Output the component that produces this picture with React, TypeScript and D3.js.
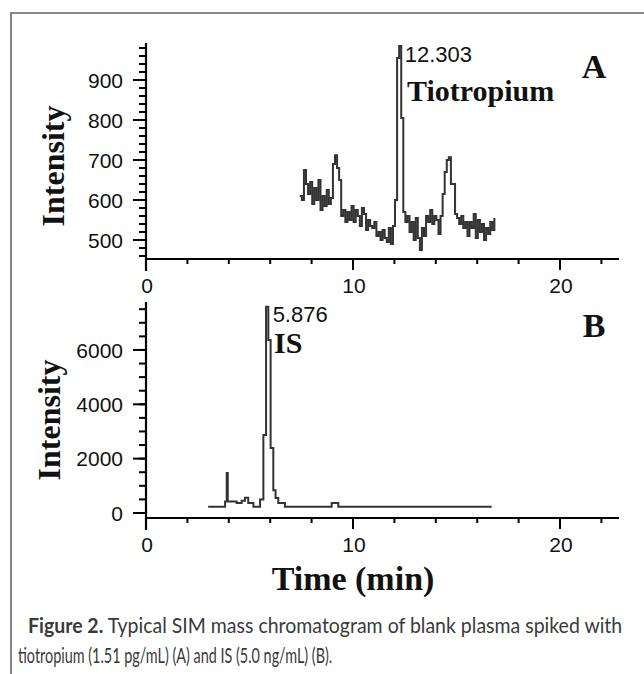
import React, { useLayoutEffect, useRef, useState } from 'react';
import * as d3 from 'd3';

// Panel A – tiotropium SIM trace (time in min, intensity)
const timeA = [
  7.43, 7.53, 7.63, 7.73, 7.83, 7.93, 8.03, 8.13, 8.23, 8.33, 8.43, 8.53, 8.63, 8.73, 8.83, 8.93,
  9.03, 9.13, 9.23, 9.33, 9.43, 9.53, 9.63, 9.73, 9.83, 9.93, 10.03, 10.13, 10.23, 10.33, 10.43,
  10.53, 10.63, 10.73, 10.83, 10.93, 11.03, 11.13, 11.23, 11.33, 11.43, 11.53, 11.63, 11.73, 11.83,
  11.93, 12.03, 12.13, 12.23, 12.33, 12.43, 12.53, 12.63, 12.73, 12.83, 12.93, 13.03, 13.13, 13.23,
  13.33, 13.43, 13.53, 13.63, 13.73, 13.83, 13.93, 14.03, 14.13, 14.23, 14.33, 14.43, 14.53, 14.63,
  14.73, 14.83, 14.93, 15.03, 15.13, 15.23, 15.33, 15.43, 15.53, 15.63, 15.73, 15.83, 15.93, 16.03,
  16.13, 16.23, 16.33, 16.43, 16.53, 16.63, 16.73, 16.83,
];
const intensityA = [
  610, 600, 675, 640, 615, 645, 590, 630, 600, 650, 575, 610, 585, 625, 590, 605,
  690, 712, 680, 650, 560, 575, 545, 570, 550, 585, 545, 575, 560, 535, 580,
  565, 525, 550, 535, 530, 545, 510, 520, 500, 525, 505, 495, 530, 490,
  535, 600, 955, 985, 805, 570, 545, 560, 520, 545, 500, 555, 505, 475,
  530, 510, 560, 545, 575, 540, 560, 550, 515, 560, 615, 670, 700, 707,
  640, 640, 565, 555, 540, 560, 530, 545, 510, 545, 530, 565, 505, 550,
  520, 540, 500, 530, 515, 545, 525, 555,
];

// Panel B – internal standard SIM trace
const timeB = [3.0, 3.82, 3.9, 3.95, 4.38, 4.62, 4.78, 4.94, 5.19, 5.51, 5.67, 5.8, 5.91, 6.02, 6.15, 6.26, 6.39, 6.71, 8.97, 9.29, 16.7];
const intensityB = [230, 420, 1470, 420, 370, 450, 560, 370, 230, 500, 2870, 7590, 6370, 2390, 840, 550, 370, 230, 370, 230, 230];

const xTickValues = [0, 10, 20];
const yTickValuesA = [500, 600, 700, 800, 900];
const yTickValuesB = [0, 2000, 4000, 6000];
const peakLabelA = '12.303';
const peakTimeA = 12.303;
const peakLabelB = '5.876';
const peakTimeB = 5.876;

const SANS = '"Liberation Sans", Arial, sans-serif';
const SERIF = '"Liberation Serif", "Times New Roman", serif';
const CAPTION = 'Lato, "Open Sans", sans-serif';

type PanelProps = {
  x: d3.ScaleLinear<number, number>;
  y: d3.ScaleLinear<number, number>;
  times: number[];
  values: number[];
  majorY: number[];
  minorY: number[];
};

function Panel({ x, y, times, values, majorY, minorY }: PanelProps) {
  const [y0, yTop] = y.range();
  const axisY = y0;
  const [x0, x1] = x.range();
  const line = d3
    .line<number>()
    .x((_, i) => x(times[i]))
    .y((v) => y(v))
    .curve(d3.curveStepAfter);
  const minorX = d3.range(2, 23, 2).filter((t) => !xTickValues.includes(t));
  return (
    <g>
      <path d={line(values) || ''} fill="none" stroke="#333" strokeWidth={2} />
      {/* y axis */}
      <line x1={x0} x2={x0} y1={yTop} y2={axisY + 12} stroke="#000" strokeWidth={2.2} />
      {minorY.map((v) => (
        <line key={'my' + v} x1={x0 - 7} x2={x0} y1={y(v)} y2={y(v)} stroke="#000" strokeWidth={2} />
      ))}
      {majorY.map((v) => (
        <g key={'My' + v}>
          <line x1={x0 - 13} x2={x0} y1={y(v)} y2={y(v)} stroke="#000" strokeWidth={2} />
          <text x={x0 - 23} y={y(v)} dy="0.36em" textAnchor="end" fontFamily={SANS} fontSize={21} fill="#111">
            {v}
          </text>
        </g>
      ))}
      {/* x axis */}
      <line x1={x0} x2={x1} y1={axisY} y2={axisY} stroke="#000" strokeWidth={2.2} />
      {minorX.map((t) => (
        <line key={'mx' + t} x1={x(t)} x2={x(t)} y1={axisY} y2={axisY + 5} stroke="#000" strokeWidth={2} />
      ))}
      {xTickValues.map((t) => (
        <g key={'Mx' + t}>
          <line x1={x(t)} x2={x(t)} y1={axisY} y2={axisY + 11} stroke="#000" strokeWidth={2} />
          <text x={x(t) + 1} y={axisY + 34} textAnchor="middle" fontFamily={SANS} fontSize={21} fill="#111">
            {t}
          </text>
        </g>
      ))}
    </g>
  );
}

export default function App() {
  const x = d3.scaleLinear().domain([0, 22.85]).range([146, 619]);
  const yA = d3.scaleLinear().domain([452.5, 992.5]).range([259, 43]);
  const yB = d3.scaleLinear().domain([-185, 7765]).range([518, 302]);

  const line1Ref = useRef<SVGTextElement>(null);
  const line2Ref = useRef<SVGTextElement>(null);
  const [cap, setCap] = useState({ s1: 0.85, s2: 0.75, done: false });

  useLayoutEffect(() => {
    const l1 = line1Ref.current;
    const l2 = line2Ref.current;
    if (!l1 || !l2 || cap.done) return;
    const w1 = l1.getComputedTextLength();
    const w2 = l2.getComputedTextLength();
    setCap({ s1: 594 / w1, s2: 314 / w2, done: true });
  }, [cap.done]);

  return (
    <svg
      width={644}
      height={674}
      style={{ position: 'absolute', left: 0, top: 0, background: '#fff' }}
    >
      <rect width={644} height={674} fill="#fff" />
      <path d="M11,674 V13 H644" fill="none" stroke="#666" strokeWidth={1.6} />

      <Panel x={x} y={yA} times={timeA} values={intensityA} majorY={yTickValuesA} minorY={d3.range(460, 981, 20)} />
      <Panel x={x} y={yB} times={timeB} values={intensityB} majorY={yTickValuesB} minorY={d3.range(0, 7501, 500)} />

      {/* Panel A annotations */}
      <text x={x(peakTimeA) + 4} y={62} fontFamily={SANS} fontSize={22} fill="#111">{peakLabelA}</text>
      <text x={407} y={101} fontFamily={SERIF} fontWeight="bold" fontSize={30} fill="#111">Tiotropium</text>
      <text x={594} y={78} textAnchor="middle" fontFamily={SERIF} fontWeight="bold" fontSize={34} fill="#111">A</text>
      <text transform="translate(64,166) rotate(-90)" textAnchor="middle" fontFamily={SERIF} fontWeight="bold" fontSize={32} fill="#111">Intensity</text>

      {/* Panel B annotations */}
      <text x={x(peakTimeB) + 5} y={322} fontFamily={SANS} fontSize={22} fill="#111">{peakLabelB}</text>
      <text x={274} y={353} fontFamily={SERIF} fontWeight="bold" fontSize={30} fill="#111">IS</text>
      <text x={594} y={337} textAnchor="middle" fontFamily={SERIF} fontWeight="bold" fontSize={34} fill="#111">B</text>
      <text transform="translate(60,420) rotate(-90)" textAnchor="middle" fontFamily={SERIF} fontWeight="bold" fontSize={32} fill="#111">Intensity</text>

      <text x={353} y={590} textAnchor="middle" fontFamily={SERIF} fontWeight="bold" fontSize={34} fill="#111">Time (min)</text>

      {/* Caption */}
      <g transform={`translate(28,633) scale(${cap.s1},1)`}>
        <text ref={line1Ref} x={0} y={0} fontFamily={CAPTION} fontSize={21} fill="#3a3a3a">
          <tspan fontWeight="bold">Figure 2.</tspan> Typical SIM mass chromatogram of blank plasma spiked with
        </text>
      </g>
      <g transform={`translate(18,663) scale(${cap.s2},1)`}>
        <text ref={line2Ref} x={0} y={0} fontFamily={CAPTION} fontSize={21} fill="#3a3a3a">
          tiotropium (1.51 pg/mL) (A) and IS (5.0 ng/mL) (B).
        </text>
      </g>
    </svg>
  );
}
